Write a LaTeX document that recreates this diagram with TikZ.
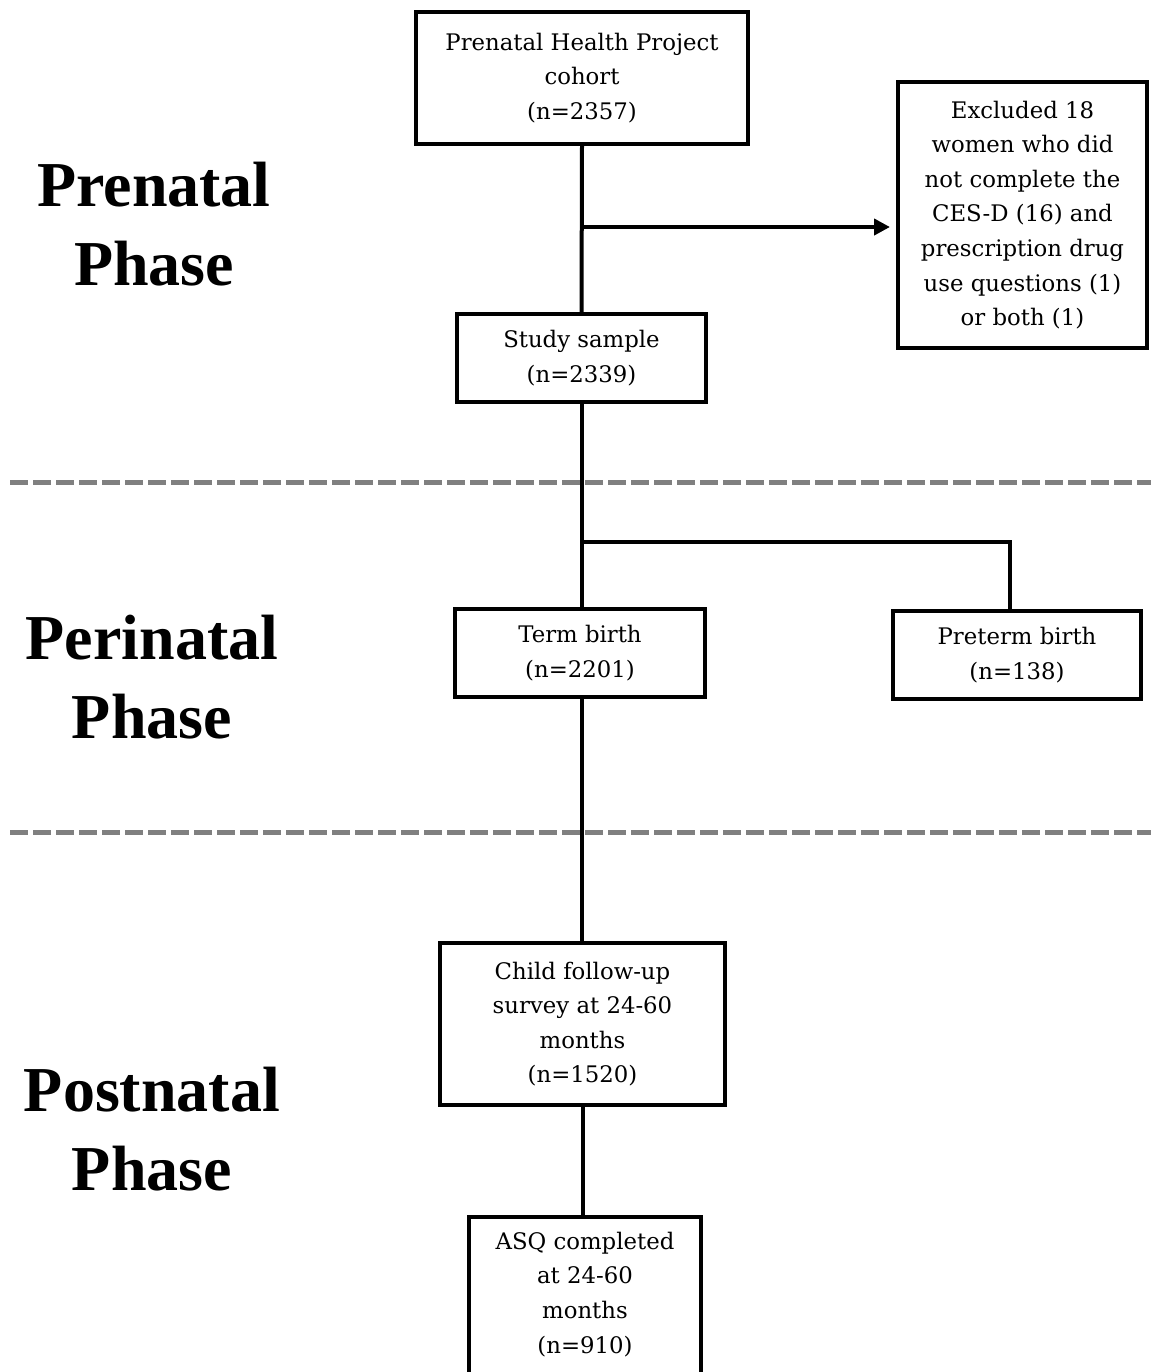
\documentclass[tikz,border=0pt]{standalone}
\usepackage{fontspec}
\setmainfont{DejaVu Serif}
\newfontfamily\phasefont{Liberation Serif}
\usetikzlibrary{arrows.meta}

\begin{document}
\begin{tikzpicture}[x=0.5pt, y=-0.5pt, line width=2pt,
	arrows={-Triangle[length=8pt,width=8pt]},
	box/.style={draw, line width=2pt, align=center, inner sep=0pt,
		font=\fontsize{11.4}{17.3}\selectfont},
	phase/.style={align=center, font=\phasefont\bfseries\fontsize{32}{39.5}\selectfont},
	divider/.style={-, draw=gray, line width=2.5pt, dash pattern=on 9pt off 2.5pt}]
	\clip (0,0) rectangle (1151,1372);
	\node[phase] (pre) at (154,224) {Prenatal\\Phase};
	\node[phase] (peri) at (152,677) {Perinatal\\Phase};
	\node[phase] (post) at (152,1129) {Postnatal\\Phase};
	\node[box, minimum width=166pt, minimum height=66pt] (cohort) at (582,78) {Prenatal Health Project\\cohort\\(n=2357)};
	\node[box, minimum width=124.5pt, minimum height=133pt] (excl) at (1022.5,215) {Excluded 18\\women who did\\not complete the\\CES-D (16) and\\prescription drug\\use questions (1)\\or both (1)};
	\node[box, minimum width=124.5pt, minimum height=44pt] (study) at (581.5,358) {Study sample\\(n=2339)};
	\node[box, minimum width=125pt, minimum height=44pt] (term) at (580,653) {Term birth\\(n=2201)};
	\node[box, minimum width=124pt, minimum height=44pt] (preterm) at (1017,655) {Preterm birth\\(n=138)};
	\node[box, minimum width=142.5pt, minimum height=81pt] (child) at (582.5,1024) {Child follow-up\\survey at 24-60\\months\\(n=1520)};
	\node[box, anchor=north, minimum width=116pt, inner ysep=7.5pt, text depth=40pt] (asq) at (585,1215) {ASQ completed\\at 24-60\\months\\(n=910)};
	\draw[divider] (10,482) -- (1151,482);
	\draw[divider] (10,832) -- (1151,832);
	\coordinate (excljoin) at (582,227);
	\coordinate (birthjoin) at (582,542);
	\draw[-] (cohort.south) -- (study.north);
	\draw (excljoin) -- ([xshift=-3pt]excljoin -| excl.west);
	\draw[-] (study.south) -- (study.south |- term.north);
	\draw[-] (birthjoin) -| ([xshift=-3.5pt]preterm.north);
	\draw[-] (term.south -| study.south) -- (child.north -| study.south);
	\draw[-] (child.south) -- (child.south |- asq.north);
\end{tikzpicture}
\end{document}
